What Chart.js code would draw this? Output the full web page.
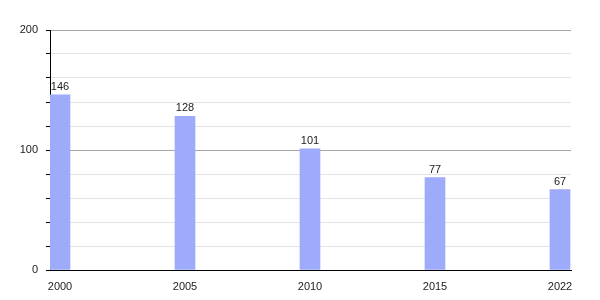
<!DOCTYPE html>
<html>
<head>
<meta charset="utf-8">
<script src="https://cdn.jsdelivr.net/npm/chart.js@4"></script>
<style>
  body { margin: 0; background: #fff; }
</style>
</head>
<body>
<canvas id="chart" width="600" height="300"></canvas>
<script>
const years = ['2000', '2005', '2010', '2015', '2022'];
const values = [146, 128, 101, 77, 67];

const ctx = document.getElementById('chart').getContext('2d');

// bars sit at evenly spaced slots, one per year
const points = values.map((v, i) => ({ x: i, y: v }));

const valueLabels = {
	id: 'valueLabels',
	afterDatasetsDraw(chart) {
		const c = chart.ctx;
		c.save();
		c.font = '11px "Liberation Sans", Arial, sans-serif';
		c.fillStyle = '#222';
		c.textAlign = 'center';
		c.textBaseline = 'alphabetic';
		chart.getDatasetMeta(0).data.forEach((bar, i) => {
			c.fillText(String(values[i]), bar.x, bar.y - 5);
		});
		c.restore();
	}
};

const chart = new Chart(ctx, {
	type: 'bar',
	data: {
		datasets: [{
			data: points,
			backgroundColor: '#9dabfa',
			borderWidth: 0,
			barThickness: 20
		}]
	},
	options: {
		responsive: false,
		animation: false,
		layout: { padding: { top: 30, right: 29, bottom: 0, left: 0 } },
		plugins: {
			legend: { display: false },
			tooltip: { enabled: false }
		},
		scales: {
			x: {
				type: 'linear',
				offset: false,
				min: -0.08,
				max: 4.088,
				grid: { display: false, offset: false },
				border: { color: '#000', width: 1 },
				afterBuildTicks(scale) {
					scale.ticks = years.map((y, i) => ({ value: i }));
				},
				afterFit(scale) { scale.height = 30; },
				ticks: {
					padding: 2,
					color: '#222',
					font: { family: '"Liberation Sans", Arial, sans-serif', size: 11 },
					callback: (v) => years[v]
				}
			},
			y: {
				min: 0,
				max: 200,
				afterFit(scale) { scale.width = 50; },
				border: { color: '#000', width: 1 },
				grid: {
					color: (c) => (c.tick.value % 100 === 0 ? '#a6a6a6' : '#e4e4e4'),
					tickColor: '#000',
					tickLength: 4
				},
				ticks: {
					stepSize: 20,
					padding: 8,
					color: '#222',
					autoSkip: false,
					font: { family: '"Liberation Sans", Arial, sans-serif', size: 11 },
					callback: (v) => (v % 100 === 0 ? v : '')
				}
			}
		}
	},
	plugins: [valueLabels]
});
</script>
</body>
</html>
